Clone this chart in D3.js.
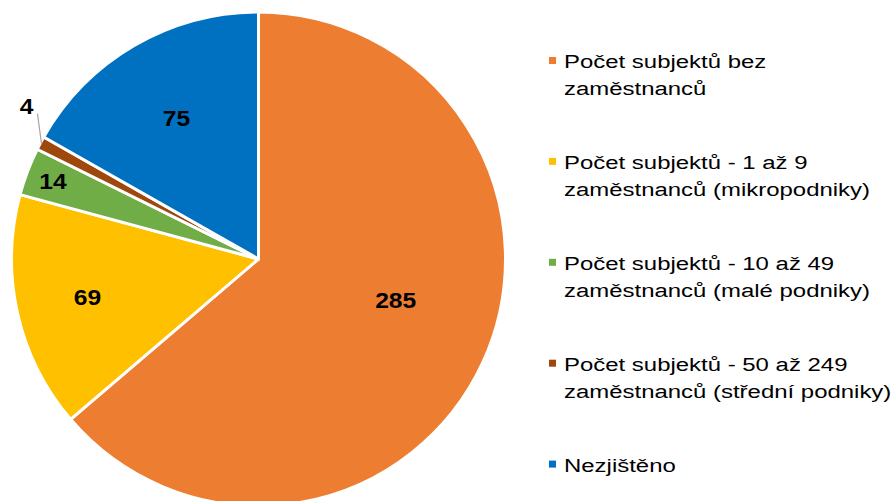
<!DOCTYPE html>
<html>
<head>
<meta charset="utf-8">
<script src="https://cdn.jsdelivr.net/npm/d3@7"></script>
<style>
  body { margin: 0; background: #fff; }
  svg { display: block; font-family: "Liberation Sans", Arial, sans-serif; }
</style>
</head>
<body>
<div id="chart"></div>
<script>
// data
const categories = [
    ['Počet subjektů bez', 'zaměstnanců'],
    ['Počet subjektů - 1 až 9', 'zaměstnanců (mikropodniky)'],
    ['Počet subjektů - 10 až 49', 'zaměstnanců (malé podniky)'],
    ['Počet subjektů - 50 až 249', 'zaměstnanců (střední podniky)'],
    ['Nezjištěno']
];
const values = [285, 69, 14, 4, 75];
const colors = ['#ED7D31', '#FFC000', '#70AD47', '#9E480E', '#0070C0'];

const width = 893;
const height = 501;
const cx = 258.5, cy = 259, radius = 247;

// label placement (fraction of radius, angle tweak in degrees)
const labelPos = [
    {r: 0.58, da: -8},
    {r: 0.71, da: 0},
    {r: 0.89, da: 0},
    {r: 1.12, da: 0, outside: true},
    {r: 0.66, da: 0}
];

const svg = d3.select('#chart')
    .append('svg')
    .attr('width', width)
    .attr('height', height);

const pie = d3.pie().sort(null).value(d => d);
const arcs = pie(values);

const arc = d3.arc().innerRadius(0).outerRadius(radius);

const g = svg.append('g')
    .attr('transform', `translate(${cx}, ${cy})`);

g.selectAll('path.slice')
    .data(arcs)
    .enter()
    .append('path')
    .attr('class', 'slice')
    .attr('d', arc)
    .attr('fill', (d, i) => colors[i])
    .attr('stroke', '#fff')
    .attr('stroke-width', 3)
    .attr('stroke-linejoin', 'round');

// data labels
arcs.forEach((d, i) => {
    const p = labelPos[i];
    const mid = (d.startAngle + d.endAngle) / 2 + p.da * Math.PI / 180;
    const lr = radius * p.r;
    let x = Math.sin(mid) * lr;
    let y = -Math.cos(mid) * lr;

    if (p.outside) {
        // leader line from slice edge to label
        const edge = radius * 0.995;
        const ex = Math.sin(mid) * edge;
        const ey = -Math.cos(mid) * edge;
        x = ex - 15;
        y = ey - 38;
        g.append('line')
            .attr('x1', ex).attr('y1', ey)
            .attr('x2', x + 11).attr('y2', y + 8)
            .attr('stroke', '#A6A6A6')
            .attr('stroke-width', 1.2);
    }

    g.append('text')
        .attr('transform', `translate(${x}, ${y}) scale(1.12, 1)`)
        .attr('dy', '0.36em')
        .attr('text-anchor', 'middle')
        .attr('fill', '#000')
        .style('font-size', '22px')
        .style('font-weight', 'bold')
        .text(values[i]);
});

// legend
const legend = svg.append('g')
    .attr('transform', 'translate(549, 68)');

categories.forEach((lines, i) => {
    const row = legend.append('g')
        .attr('transform', `translate(0, ${i * 100.9})`);

    row.append('rect')
        .attr('x', 0)
        .attr('y', -11)
        .attr('width', 7)
        .attr('height', 7)
        .attr('fill', colors[i]);

    const t = row.append('text')
        .attr('transform', 'translate(15, 0) scale(1.26, 1)')
        .attr('fill', '#000')
        .style('font-size', '19px');

    lines.forEach((line, j) => {
        t.append('tspan')
            .attr('x', 0)
            .attr('dy', j === 0 ? 0 : 27)
            .text(line);
    });
});
</script>
</body>
</html>
